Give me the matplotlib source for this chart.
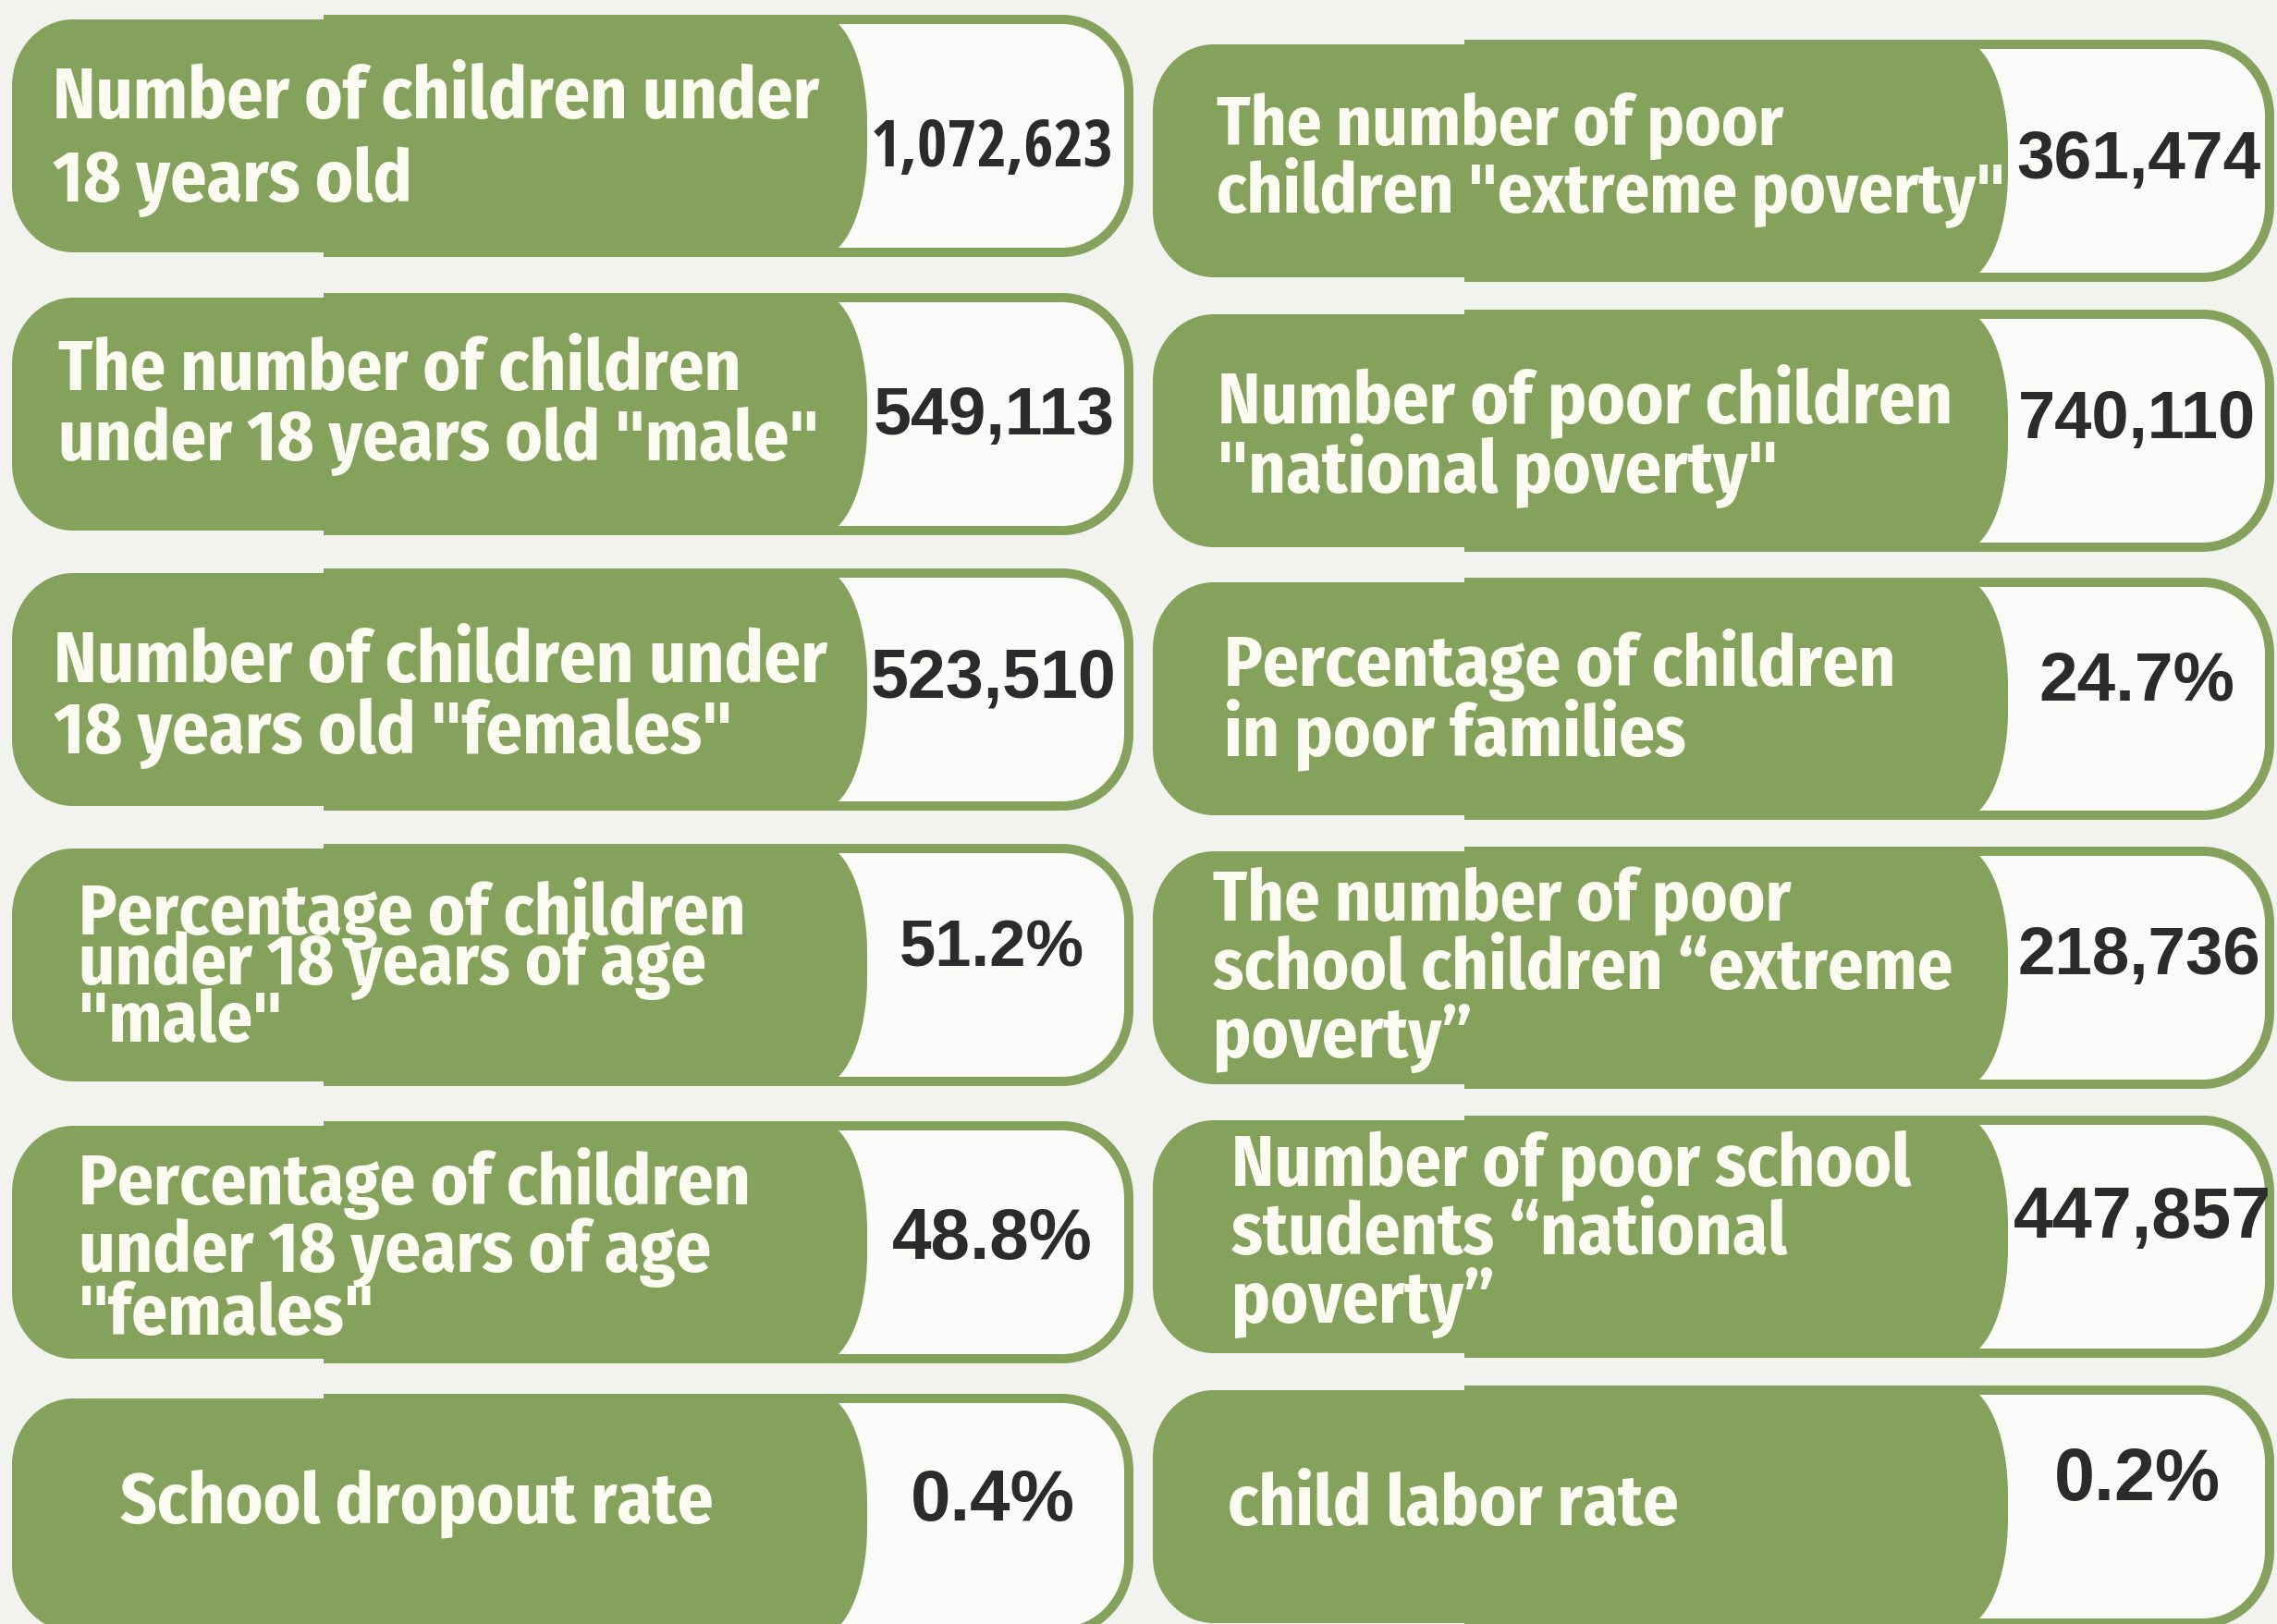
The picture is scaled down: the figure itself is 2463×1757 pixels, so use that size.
import matplotlib
matplotlib.use("Agg")
import matplotlib.pyplot as plt
from matplotlib.path import Path
from matplotlib.patches import PathPatch

# card texts, left column then right column (top to bottom)
left_labels = [
    "Number of children under\n18 years old",
    "The number of children\nunder 18 years old \"male\"",
    "Number of children under\n18 years old \"females\"",
    "Percentage of children\nunder 18 years of age\n\"male\"",
    "Percentage of children\nunder 18 years of age\n\"females\"",
    "School dropout rate",
]
left_values = ["1,072,623", "549,113", "523,510", "51.2%", "48.8%", "0.4%"]

right_labels = [
    "The number of poor\nchildren \"extreme poverty\"",
    "Number of poor children\n\"national poverty\"",
    "Percentage of children\nin poor families",
    "The number of poor\nschool children \u201cextreme\npoverty\u201d",
    "Number of poor school\nstudents \u201cnational\npoverty\u201d",
    "child labor rate",
]
right_values = ["361,474", "740,110", "24.7%", "218,736", "447,857", "0.2%"]

# layout (pixels, origin top-left)
col_x = [13, 1247]
left_tops = [16, 317, 615, 913, 1213, 1508]
right_tops = [43, 335, 625, 916, 1207, 1499]
CARD_W, CARD_H = 1213, 262
STEP_X, GREEN_X = 342, 925

# per card: label x, label baselines, widest line width, value (x0, x1, baseline)
left_label_pos = [
    (57, [128, 218], 830),
    (63, [422, 498], 823),
    (58, [738, 815], 837),
    (85, [1011, 1065, 1127], 722),
    (85, [1303, 1376, 1444], 727),
    (130, [1647], 641),
]
left_value_pos = [(942, 1205, 180), (945, 1206, 470), (942, 1208, 755),
                  (973, 1173, 1045), (965, 1182, 1362), (985, 1163, 1645)]
right_label_pos = [
    (1316, [157, 230], 854),
    (1317, [458, 533], 797),
    (1324, [742, 817], 726),
    (1312, [996, 1070, 1144], 799),
    (1332, [1283, 1357, 1431], 736),
    (1328, [1650], 488),
]
right_value_pos = [(2181, 2445, 193), (2183, 2440, 474), (2205, 2417, 757),
                   (2182, 2445, 1054), (2178, 2457, 1339), (2222, 2402, 1623)]

GREEN = "#85a25d"
PAPER = "#f2f2ef"
INNER = "#fbfbf9"
LABEL_FONT = ["Fira Sans Condensed", "PT Sans Narrow", "DejaVu Sans"]
VALUE_FONT = ["Liberation Sans", "DejaVu Sans"]
# the long figure is squeezed in the original, so a narrow face keeps its height
VALUE_FONT_NARROW = ["Open Sans Condensed", "Liberation Sans"]


def rounded_box(x0, y0, x1, y1, left=(0, 0), right=(0, 0)):
    k = 0.5523
    lx, ly = left
    rx, ry = right
    verts = [(x0 + lx, y0), (x1 - rx, y0),
             (x1 - rx + k * rx, y0), (x1, y0 + ry - k * ry), (x1, y0 + ry),
             (x1, y1 - ry),
             (x1, y1 - ry + k * ry), (x1 - rx + k * rx, y1), (x1 - rx, y1),
             (x0 + lx, y1),
             (x0 + lx - k * lx, y1), (x0, y1 - ly + k * ly), (x0, y1 - ly),
             (x0, y0 + ly),
             (x0, y0 + ly - k * ly), (x0 + lx - k * lx, y0), (x0 + lx, y0),
             (x0 + lx, y0)]
    codes = ([Path.MOVETO, Path.LINETO] + [Path.CURVE4] * 3 + [Path.LINETO]
             + [Path.CURVE4] * 3 + [Path.LINETO] + [Path.CURVE4] * 3
             + [Path.LINETO] + [Path.CURVE4] * 3 + [Path.CLOSEPOLY])
    return Path(verts, codes)


fig = plt.figure(figsize=(24.63, 17.57), dpi=100)
fig.patch.set_facecolor(PAPER)
ax = fig.add_axes([0, 0, 1, 1])
ax.set_xlim(0, 2463)
ax.set_ylim(1757, 0)
ax.axis("off")


def draw_card(x, top):
    # white value box with green border
    ax.add_patch(PathPatch(rounded_box(x + STEP_X, top + 5, x + CARD_W - 5, top + CARD_H - 5,
                                       right=(72, 78)),
                           facecolor=INNER, edgecolor=GREEN, lw=7.2))
    # slightly lower left part of the label block
    ax.add_patch(PathPatch(rounded_box(x, top + 5, x + STEP_X + 20, top + CARD_H - 5,
                                       left=(66, 72)),
                           facecolor=GREEN, edgecolor="none"))
    # main label block with the rounded right end
    ax.add_patch(PathPatch(rounded_box(x + STEP_X, top, x + GREEN_X, top + CARD_H,
                                       left=(8, 8), right=(52, 118)),
                           facecolor=GREEN, edgecolor="none"))


renderer = fig.canvas.get_renderer()


def fit_width(texts, target, base):
    widest = max(t.get_window_extent(renderer).width for t in texts)
    for t in texts:
        t.set_fontsize(base * target / widest)


columns = [
    (col_x[0], left_tops, left_labels, left_values, left_label_pos, left_value_pos),
    (col_x[1], right_tops, right_labels, right_values, right_label_pos, right_value_pos),
]

for x, tops, labels, values, lpos, vpos in columns:
    for top, label, value, (lx, baselines, lw_target), (v0, v1, vb) in zip(tops, labels, values, lpos, vpos):
        draw_card(x, top)
        lines = label.split("\n")
        objs = [ax.text(lx, yb, line, ha="left", va="baseline", color="#fbfbf2",
                        fontsize=50, fontweight="bold", family=LABEL_FONT)
                for line, yb in zip(lines, baselines)]
        fit_width(objs, lw_target, 50)
        vfont = VALUE_FONT_NARROW if len(value) > 7 else VALUE_FONT
        vt = ax.text((v0 + v1) / 2, vb, value, ha="center", va="baseline", color="#2b2b2b",
                     fontsize=40, fontweight="bold", family=vfont)
        fit_width([vt], v1 - v0, 40)

fig.savefig("out.png", dpi=100, facecolor=PAPER)
